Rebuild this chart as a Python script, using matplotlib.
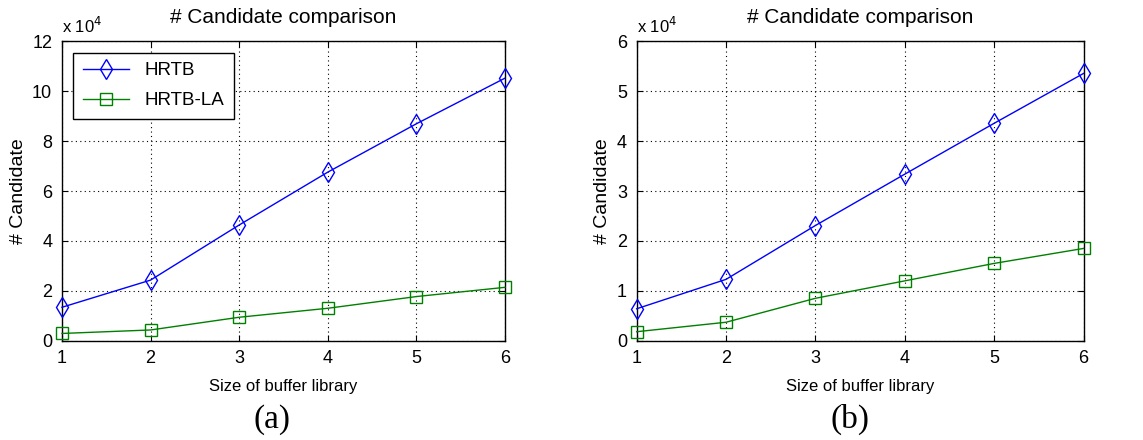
import matplotlib
matplotlib.use("Agg")
import matplotlib.pyplot as plt

x_sizes = [1, 2, 3, 4, 5, 6]
hrtb_a = [1.34, 2.43, 4.64, 6.76, 8.70, 10.53]
hrtb_la_a = [0.29, 0.43, 0.94, 1.30, 1.77, 2.14]
hrtb_b = [0.64, 1.23, 2.31, 3.34, 4.36, 5.36]
hrtb_la_b = [0.18, 0.37, 0.85, 1.20, 1.55, 1.85]
yticks_a = [0, 2, 4, 6, 8, 10, 12]
yticks_b = [0, 1, 2, 3, 4, 5, 6]
series_names = ["HRTB", "HRTB-LA"]
captions = ["(a)", "(b)"]

plt.rcParams['font.family'] = ['Liberation Sans', 'DejaVu Sans']

fig = plt.figure(figsize=(11.43, 4.4), dpi=100)
rects = [[0.0542, 0.2257, 0.3876, 0.680], [0.557, 0.2257, 0.391, 0.680]]
caption_x = [272 / 1143, 850 / 1143]
datasets = [(hrtb_a, hrtb_la_a, yticks_a), (hrtb_b, hrtb_la_b, yticks_b)]

for i, (rect, (h, la, yt)) in enumerate(zip(rects, datasets)):
    ax = fig.add_axes(rect)
    ax.plot(x_sizes, h, color=(0, 0, 1), lw=1.0, marker='d', ms=10,
            mfc='none', mec=(0, 0, 1), mew=1.0, label=series_names[0], clip_on=False, zorder=3)
    ax.plot(x_sizes, la, color=(0, 0.5, 0), lw=1.0, marker='s', ms=9,
            mfc='none', mec=(0, 0.5, 0), mew=1.0, label=series_names[1], clip_on=False, zorder=3)
    ax.set_xlim(1, 6)
    ax.set_ylim(yt[0], yt[-1])
    ax.set_xticks(x_sizes)
    ax.set_yticks(yt)
    ax.grid(True, color='black', linestyle=(0, (1, 3)), linewidth=0.8)
    ax.tick_params(direction='in', top=True, right=True, labelsize=13, length=4, pad=7)
    for sp in ax.spines.values():
        sp.set_linewidth(1.0)
    ax.set_xlabel("Size of buffer library", fontsize=12, labelpad=8)
    ax.set_ylabel("# Candidate", fontsize=14, labelpad=4)
    ax.set_title("# Candidate comparison", fontsize=15, pad=13)
    ax.text(0.0, 1.02, r"x 10$^{4}$", transform=ax.transAxes, fontsize=12,
            ha='left', va='bottom')
    fig.text(caption_x[i], 0.047, captions[i], fontsize=24,
             family='Liberation Serif', ha='center', va='center')
    if i == 0:
        leg = ax.legend(loc='upper left', fontsize=13.5, fancybox=False,
                        edgecolor='black', framealpha=1, borderaxespad=0.6,
                        handlelength=2.5, borderpad=0.5, labelspacing=0.7)
        leg.get_frame().set_linewidth(1.0)

fig.savefig("out.png", dpi=100)
